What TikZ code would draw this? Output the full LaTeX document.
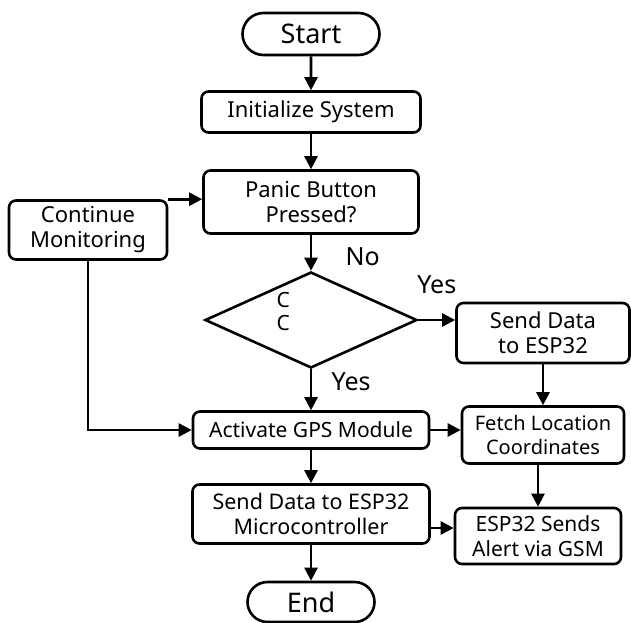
\documentclass[tikz,border=0pt]{standalone}
\usepackage{fontspec}
\setmainfont{Noto Sans}
\usetikzlibrary{arrows.meta}
\usetikzlibrary{shapes.geometric}
\usetikzlibrary{shapes.misc}

\begin{document}
\begin{tikzpicture}[x=1pt,y=-1pt,line width=2.6pt,
        flow/.style={-{Triangle[length=13pt,width=13pt]}},
        terminal/.style={draw,rounded rectangle,inner sep=0pt,font=\fontsize{27}{30}\selectfont},
        process/.style={draw,rectangle,rounded corners=7pt,inner sep=0pt,align=center,font=\fontsize{22}{25}\selectfont},
        decision/.style={draw,diamond,inner sep=0pt,minimum width=212pt,minimum height=96pt},
        tag/.style={font=\fontsize{25}{28}\selectfont}]

        % fix the margins
        \useasboundingbox (0,0) rectangle (631,622);

        % draw the main column
        \node[terminal,minimum width=137pt,minimum height=42pt] (start) at (311,34) {Start};
        \node[process,minimum width=219pt,minimum height=41pt] (init) at (311,112) {Initialize System};
        \node[process,minimum width=215pt,minimum height=63pt] (panic) at (311,202) {Panic Button\\Pressed?};
        \node[decision] (check) at (311,320) {};
        \node[anchor=west,align=left,font=\fontsize{21}{23}\selectfont] (checktxt) at (272,311) {C\\C};
        \node[process,minimum width=236pt,minimum height=37pt,font=\fontsize{21}{25}\selectfont] (gps) at (311,430) {Activate GPS Module};
        \node[process,minimum width=237pt,minimum height=59pt,font=\fontsize{21.5}{25}\selectfont] (sendmc) at (311,514) {Send Data to ESP32\\Microcontroller};
        \node[terminal,minimum width=127pt,minimum height=40pt] (stop) at (311,602) {End};

        % draw the side boxes
        \node[process,minimum width=158pt,minimum height=59pt] (cont) at (88,230) {Continue\\Monitoring};
        \node[process,minimum width=173pt,minimum height=60pt] (sendesp) at (543,333) {Send Data\\to ESP32};
        \node[process,minimum width=162pt,minimum height=57pt,font=\fontsize{20}{24}\selectfont] (fetch) at (543,435) {Fetch Location\\Coordinates};
        \node[process,minimum width=166pt,minimum height=56pt,font=\fontsize{21}{25}\selectfont] (alert) at (538,536) {ESP32 Sends\\Alert via GSM};

        % draw the arrows
        \draw[flow] (start) -- (init);
        \draw[flow] (init) -- (panic);
        \draw[flow] (panic) -- (check) node[tag,pos=0.6,right=30pt] (no) {No};
        \draw[flow] (check.east) -- (check.east -| sendesp.west) node[tag,pos=0.5,above=22pt] (yes1) {Yes};
        \draw[flow] (check.south) -- (gps.north) node[tag,pos=0.3,right=16pt] (yes2) {Yes};
        \draw[flow] (cont.north east) -- (cont.north east -| panic.west);
        \draw[flow] (cont.south) |- (gps.west);
        \draw[flow] (gps.east) -- (gps.east -| fetch.west);
        \draw[flow] (sendesp.south) -- (fetch.north);
        \draw[flow] (gps) -- (sendmc);
        \coordinate (m) at ([yshift=-14pt]sendmc.east);
        \draw[flow] (m) -- (m -| alert.west);
        \draw[flow] (alert.north |- fetch.south) -- (alert.north);
        \draw[flow] (sendmc) -- (stop);
\end{tikzpicture}
\end{document}
